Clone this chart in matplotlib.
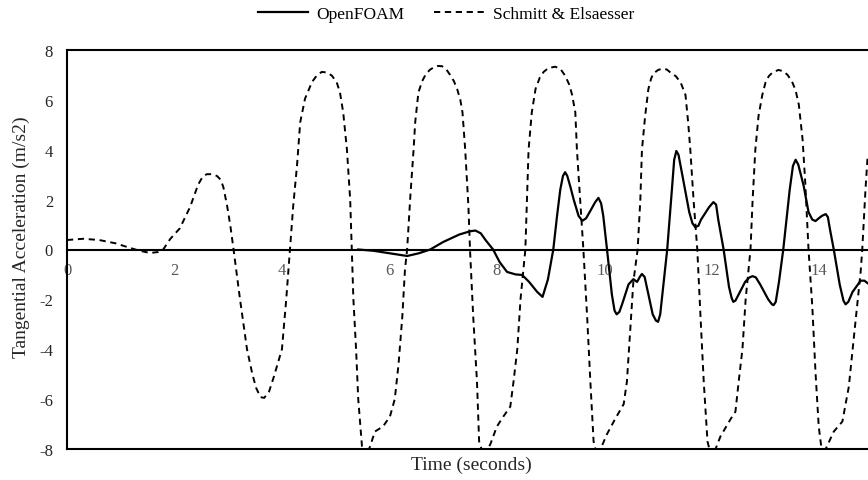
import matplotlib
matplotlib.use("Agg")
import matplotlib.pyplot as plt

plt.rcParams['font.family'] = ['Liberation Serif', 'DejaVu Serif']
plt.rcParams['axes.unicode_minus'] = False

# Schmitt & Elsaesser reference curve
t_ref = [0.0, 0.3, 0.6, 0.9, 1.12, 1.35, 1.55, 1.7, 1.79, 1.92, 2.1, 2.29, 2.44, 2.52, 2.6, 2.7, 2.79,
         2.86, 2.91, 2.98, 3.04, 3.1, 3.22, 3.35, 3.45, 3.52, 3.6, 3.67, 3.76, 3.85, 4.0, 4.08, 4.15,
         4.21, 4.28, 4.34, 4.43, 4.56, 4.65, 4.74, 4.84, 4.93, 5.02, 5.08, 5.14, 5.21, 5.27, 5.3,
         5.33, 5.38, 5.42, 5.49, 5.56, 5.64, 5.73, 5.88, 6.01, 6.1, 6.17, 6.24, 6.29, 6.33,
         6.39, 6.45, 6.48, 6.54, 6.61, 6.67, 6.75, 6.82, 6.9, 6.98, 7.06, 7.13, 7.2, 7.26, 7.32,
         7.36, 7.41, 7.47, 7.5,
         7.56, 7.63, 7.67, 7.76, 7.88, 8.0, 8.12, 8.25, 8.31, 8.38, 8.44, 8.53,
         8.56, 8.59, 8.65, 8.72, 8.8, 8.87, 8.96, 9.09, 9.19, 9.27, 9.35, 9.4, 9.46, 9.49, 9.55, 9.61,
         9.68, 9.74, 9.8, 9.87, 9.93, 10.05, 10.2, 10.36, 10.42, 10.48, 10.54, 10.62,
         10.67, 10.7, 10.76, 10.82, 10.87, 10.91, 11.0, 11.08, 11.16, 11.23, 11.33, 11.42, 11.51,
         11.56, 11.6, 11.66, 11.73,
         11.79, 11.85, 11.92, 11.99, 12.07, 12.16, 12.35, 12.44, 12.5, 12.57, 12.63, 12.72,
         12.76, 12.81, 12.87, 12.94, 13.0, 13.06, 13.13, 13.24, 13.33, 13.41, 13.49, 13.56, 13.62,
         13.69, 13.74, 13.8,
         13.87, 13.93, 13.99, 14.06, 14.12, 14.27, 14.43, 14.55, 14.64, 14.77, 14.8, 14.86, 14.9]
a_ref = [0.38, 0.43, 0.38, 0.25, 0.1, -0.05, -0.14, -0.1, 0.0, 0.42, 0.85, 1.7, 2.6, 2.9, 3.02, 3.02, 2.95,
         2.8, 2.5, 1.75, 0.95, 0.0, -2.0, -4.0, -5.0, -5.55, -5.92, -5.95, -5.7, -5.1, -4.0, -2.0, 0.0,
         1.75, 3.35, 5.1, 6.05, 6.72, 6.98, 7.12, 7.1, 6.97, 6.7, 6.3, 5.5, 4.0, 2.0, 0.0,
         -2.0, -4.0, -6.0, -7.9, -8.3, -7.9, -7.3, -7.1, -6.7, -6.0, -4.6, -2.7, -0.8, 0.0,
         2.15, 4.0, 5.1, 6.3, 6.75, 7.0, 7.2, 7.3, 7.36, 7.35, 7.22, 7.0, 6.75, 6.44, 6.0,
         5.5, 4.03, 1.75, 0.0,
         -2.7, -5.3, -7.7, -8.3, -7.8, -7.1, -6.7, -6.3, -5.3, -4.0, -2.0, 0.0,
         2.0, 4.0, 5.5, 6.44, 6.9, 7.12, 7.28, 7.33, 7.22, 6.97, 6.6, 6.2, 5.5, 4.0, 2.0, 0.0,
         -2.7, -5.3, -7.7, -8.3, -8.0, -7.4, -6.8, -6.2, -5.3, -3.3, -1.3, 0.0,
         2.0, 4.0, 5.36, 6.44, 6.85, 7.05, 7.2, 7.25, 7.22, 7.1, 6.95, 6.7, 6.2,
         5.1, 4.0, 2.0, 0.0,
         -2.7, -5.3, -7.7, -8.3, -8.0, -7.5, -6.8, -6.5, -5.3, -4.0, -2.0, 0.0,
         2.0, 4.0, 5.36, 6.2, 6.7, 6.95, 7.1, 7.2, 7.15, 7.0, 6.75, 6.38, 5.8,
         4.4, 2.65, 0.0,
         -2.27, -4.93, -7.1, -8.3, -8.0, -7.3, -6.9, -5.5, -3.6, -0.9, 0.0, 2.4, 3.75]

# OpenFOAM result
t_of = [5.42, 5.7, 6.0, 6.33, 6.55, 6.76, 7.0, 7.3, 7.5, 7.6, 7.7, 7.8, 7.93, 8.05, 8.19, 8.35, 8.47,
        8.6, 8.75, 8.85, 8.95, 9.05, 9.12, 9.18, 9.23, 9.27, 9.31, 9.37, 9.43, 9.52, 9.59, 9.66, 9.74,
        9.83, 9.89, 9.94, 9.98,
        10.05, 10.14, 10.19, 10.23, 10.28, 10.33, 10.45, 10.54, 10.61, 10.66, 10.7, 10.75, 10.8, 10.9,
        10.96, 11.0, 11.04, 11.08, 11.17,
        11.25, 11.3, 11.34, 11.38, 11.45, 11.58, 11.64, 11.69, 11.75, 11.8, 11.95, 12.03, 12.08, 12.12,
        12.22, 12.32, 12.37, 12.4, 12.44, 12.5,
        12.62, 12.7, 12.76, 12.82, 12.9, 13.05, 13.12, 13.15, 13.19, 13.25, 13.33, 13.45, 13.51, 13.56,
        13.61, 13.71, 13.8, 13.87, 13.93, 13.99, 14.05,
        14.12, 14.16, 14.2, 14.27, 14.38, 14.45, 14.49, 14.54, 14.62, 14.77, 14.84, 14.9]
a_of = [0.0, -0.05, -0.15, -0.26, -0.15, 0.0, 0.3, 0.6, 0.73, 0.76, 0.65, 0.35, 0.0, -0.5, -0.9, -1.0, -1.02,
        -1.3, -1.7, -1.9, -1.2, 0.0, 1.35, 2.4, 2.95, 3.1, 2.95, 2.5, 2.0, 1.35, 1.15, 1.25, 1.55,
        1.9, 2.07, 1.85, 1.35,
        0.0, -1.8, -2.45, -2.6, -2.5, -2.2, -1.4, -1.19, -1.3, -1.1, -0.98, -1.1, -1.6, -2.6,
        -2.85, -2.9, -2.6, -1.8, 0.0,
        2.2, 3.6, 3.95, 3.8, 3.0, 1.5, 1.05, 0.9, 0.95, 1.2, 1.7, 1.9, 1.8, 1.2,
        0.0, -1.5, -1.95, -2.1, -2.05, -1.8,
        -1.3, -1.12, -1.07, -1.12, -1.4, -2.0, -2.2, -2.23, -2.1, -1.3, 0.0, 2.4, 3.35, 3.6,
        3.4, 2.55, 1.5, 1.2, 1.14, 1.25, 1.35,
        1.42, 1.3, 0.8, 0.0, -1.4, -2.05, -2.2, -2.1, -1.7, -1.25, -1.25, -1.35]

x_ticks = [0, 2, 4, 6, 8, 10, 12, 14]
y_ticks = [-8, -6, -4, -2, 0, 2, 4, 6, 8]

fig = plt.figure(figsize=(8.68, 4.81), dpi=100)
ax = fig.add_axes([67 / 868, 31 / 481, 806 / 868, 399 / 481])

ax.plot(t_of, a_of, color='black', lw=1.6, label='OpenFOAM')
ax.plot(t_ref, a_ref, color='black', lw=1.4, dashes=(3.2, 2.4), label='Schmitt & Elsaesser')

ax.set_xlim(0, 15)
ax.set_ylim(-8, 8)

# horizontal axis crosses at zero, plot area keeps its box
ax.spines['bottom'].set_position(('data', 0))
for s in ['bottom', 'top', 'left', 'right']:
    ax.spines[s].set_linewidth(1.5)
    ax.spines[s].set_color('black')
ax.axhline(-8, color='black', lw=1.5, clip_on=False)

ax.set_xticks(x_ticks)
ax.set_yticks(y_ticks)
ax.tick_params(axis='x', length=0, pad=9, labelsize=12, labelcolor='#595959')
ax.tick_params(axis='y', length=0, pad=10, labelsize=12, labelcolor='#262626')

ax.set_ylabel('Tangential Acceleration (m/s2)', fontsize=14, color='#262626')
ax.yaxis.set_label_coords((30 - 67) / 806, 0.5 + (250 - 237) / 399)
fig.text(471 / 868, 1 - 465 / 481, 'Time (seconds)', fontsize=14, color='#262626',
         ha='center', va='center')

fig.legend(loc='center', bbox_to_anchor=(446 / 868, 1 - 15 / 481), ncol=2, frameon=False,
           fontsize=12.5, handlelength=2.9, columnspacing=1.7, handletextpad=0.5)

fig.savefig('out.png', dpi=100, facecolor='white')
